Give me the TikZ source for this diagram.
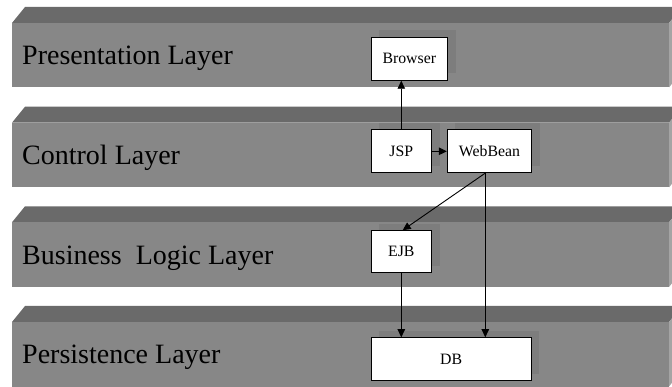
\documentclass[tikz,border=0pt]{standalone}
\usepackage{fontspec}
\setmainfont{Liberation Serif}
\usetikzlibrary{arrows.meta,shadows}
\definecolor{frontgray}{HTML}{878787}
\definecolor{topgray}{HTML}{6A6A6A}
\definecolor{sidegray}{HTML}{A4A4A4}
\definecolor{shadowgray}{HTML}{7D7D7D}
\begin{document}
\begin{tikzpicture}[x=1pt,y=-1pt,
  layerlabel/.style={anchor=base west,inner sep=0pt,font=\fontsize{28}{30}\selectfont},
  compbox/.style={draw=black,line width=0.9pt,fill=white,inner sep=0pt,
    font=\fontsize{15.8}{18}\selectfont,
    general shadow={shadow xshift=8pt,shadow yshift=7pt,fill=shadowgray}},
  conn/.style={line width=0.9pt,-{Triangle[length=8pt,width=7.5pt]}}]
\useasboundingbox (0,0) rectangle (672,387);
\begin{scope}
\clip (0,0) rectangle (672,387);
\foreach \t/\b in {23/87.5, 122.7/187.5, 222.3/287, 322/386.5}{
  \fill[topgray] (12,\t) -- (25,\t-16) -- (682,\t-16) -- (669,\t) -- cycle;
  \fill[sidegray] (669,\t) -- (682,\t-16) -- (682,\b-16) -- (669,\b) -- cycle;
  \fill[frontgray] (12,\t) rectangle (669,\b);
}
\end{scope}
\node[layerlabel] (lp) at (22,64.6) {Presentation Layer};
\node[layerlabel] (lc) at (22,165) {Control Layer};
\node[layerlabel] (lb) at (22,264.3) {Business~~Logic Layer};
\node[layerlabel] (ls) at (22,363.8) {Persistence Layer};

\node[compbox,minimum width=76.7pt,minimum height=43pt] (browser) at (409.3,58.8) {Browser};
\node[compbox,minimum width=60.7pt,minimum height=42.7pt] (jsp) at (401.3,151.3) {JSP};
\node[compbox,minimum width=84.4pt,minimum height=42.7pt] (web) at (489.5,151.3) {WebBean};
\node[compbox,minimum width=60.7pt,minimum height=42.3pt] (ejb) at (401.3,251.8) {EJB};
\node[compbox,minimum width=160.3pt,minimum height=43pt] (db) at (451.2,359.2) {DB};

\coordinate (wbout) at ([xshift=-4.2pt]web.south);
\draw[conn] (jsp.north) -- (jsp.north |- browser.south);
\draw[conn] (jsp.east) -- (web.west);
\draw[conn] (wbout) -- ([xshift=1.4pt]ejb.north);
\draw[conn] (wbout) -- (wbout |- db.north);
\draw[conn] (ejb.south) -- (ejb.south |- db.north);
\end{tikzpicture}
\end{document}
